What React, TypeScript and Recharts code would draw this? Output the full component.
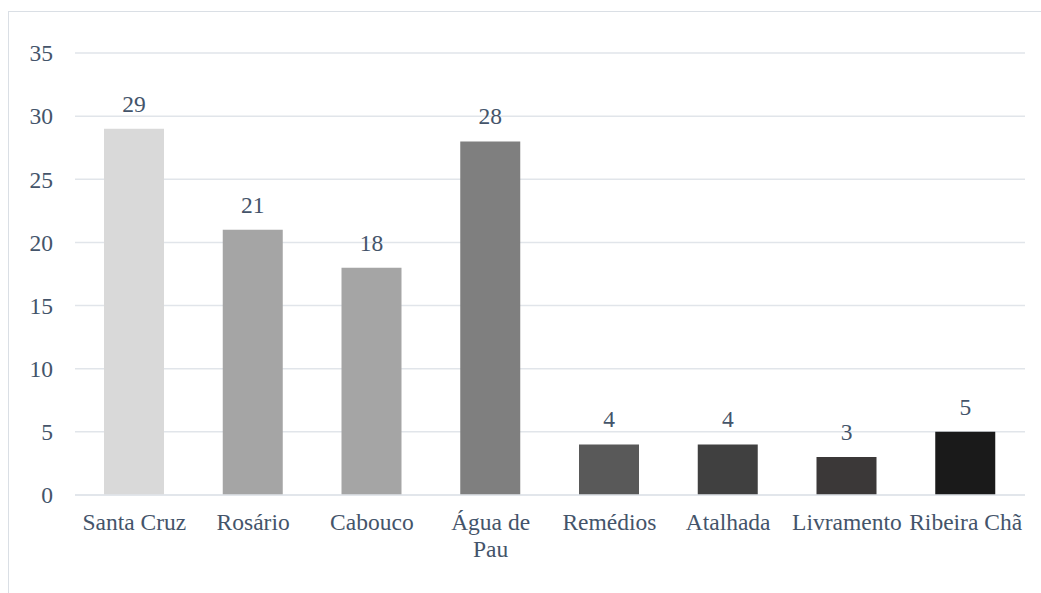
import { BarChart, Bar, XAxis, YAxis, CartesianGrid, Cell, LabelList } from 'recharts'

const categories = ['Santa Cruz', 'Rosário', 'Cabouco', 'Água de Pau', 'Remédios', 'Atalhada', 'Livramento', 'Ribeira Chã']
const values = [29, 21, 18, 28, 4, 4, 3, 5]
const barColors = ['#D9D9D9', '#A5A5A5', '#A5A5A5', '#7F7F7F', '#595959', '#404040', '#3B3838', '#1A1A1A']
const yTicks = [0, 5, 10, 15, 20, 25, 30, 35]

const data = categories.map((name, i) => ({ name, value: values[i] }))

const FONT = '"Liberation Serif", "Times New Roman", serif'
const FONT_SIZE = 23.5
const TEXT = '#44546A'
const GRID = '#E1E5EA'

let ctx: CanvasRenderingContext2D | null = null
function measure(s: string) {
  if (!ctx) ctx = document.createElement('canvas').getContext('2d')
  if (!ctx) return s.length * FONT_SIZE * 0.45
  ctx.font = `${FONT_SIZE}px ${FONT}`
  return ctx.measureText(s).width
}

// word wrap to the width of a category band, like the original does
function wrap(label: string, maxWidth: number) {
  const lines: string[] = []
  let cur = ''
  for (const w of label.split(' ')) {
    const next = cur ? cur + ' ' + w : w
    if (cur && measure(next) > maxWidth) {
      lines.push(cur)
      cur = w
    } else {
      cur = next
    }
  }
  if (cur) lines.push(cur)
  return lines
}

function CategoryTick(props: any) {
  const { x, y, payload } = props
  const lines = wrap(String(payload.value), 116)
  return (
    <text x={x} y={y + 35} textAnchor="middle" fill={TEXT} fontSize={FONT_SIZE} fontFamily={FONT}>
      {lines.map((l, i) => (
        <tspan key={i} x={x} dy={i === 0 ? 0 : 27}>
          {l}
        </tspan>
      ))}
    </text>
  )
}

export default function App() {
  return (
    <div
      style={{
        position: 'fixed',
        left: 8,
        top: 11,
        width: 1033,
        height: 582,
        borderTop: '1.5px solid #DADFE5',
        borderLeft: '1.5px solid #DADFE5',
        background: '#fff',
      }}
    >
      <BarChart
        width={1032}
        height={581}
        data={data}
        margin={{ top: 41, right: 16, left: 6, bottom: 38 }}
        barSize={60}
      >
        <CartesianGrid vertical={false} stroke={GRID} strokeWidth={1.5} />
        <XAxis
          dataKey="name"
          interval={0}
          height={60}
          tickLine={false}
          tickSize={0}
          tickMargin={0}
          axisLine={{ stroke: GRID, strokeWidth: 1.5 }}
          tick={<CategoryTick />}
        />
        <YAxis
          domain={[0, 35]}
          ticks={yTicks}
          width={60}
          axisLine={false}
          tickLine={false}
          tickSize={0}
          tickMargin={22}
          tick={{ fontSize: FONT_SIZE, fontFamily: FONT, fill: TEXT }}
        />
        <Bar dataKey="value" isAnimationActive={false}>
          {data.map((d, i) => (
            <Cell key={d.name} fill={barColors[i]} />
          ))}
          <LabelList
            dataKey="value"
            position="top"
            offset={17}
            fill={TEXT}
            fontSize={FONT_SIZE}
            fontFamily={FONT}
          />
        </Bar>
      </BarChart>
    </div>
  )
}
